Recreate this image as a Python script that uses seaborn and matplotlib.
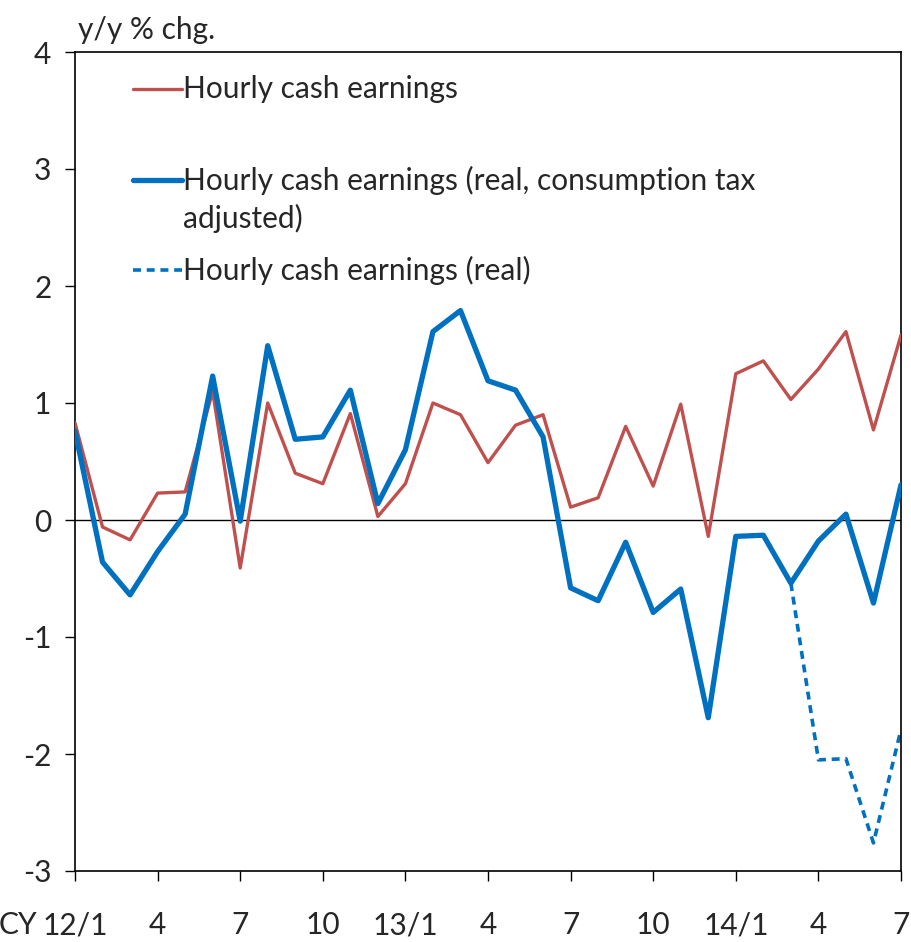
import numpy as np
import pandas as pd
import matplotlib
matplotlib.use("Agg")
import matplotlib.pyplot as plt
import seaborn as sns

# monthly data, CY 2012/1 .. 2014/7
months = list(range(31))
nominal = [0.83, -0.06, -0.17, 0.23, 0.24, 1.10, -0.41, 1.00, 0.40, 0.31,
           0.91, 0.03, 0.31, 1.00, 0.90, 0.49, 0.81, 0.90, 0.11, 0.19,
           0.80, 0.29, 0.99, -0.14, 1.25, 1.36, 1.03, 1.29, 1.61, 0.77, 1.58]
real_adj = [0.76, -0.36, -0.64, -0.27, 0.05, 1.23, -0.01, 1.49, 0.69, 0.71,
            1.11, 0.14, 0.60, 1.61, 1.79, 1.19, 1.11, 0.71, -0.58, -0.69,
            -0.19, -0.79, -0.59, -1.69, -0.14, -0.13, -0.54, -0.18, 0.05, -0.71, 0.30]
real_months = [26, 27, 28, 29, 30]
real = [-0.54, -2.05, -2.04, -2.76, -1.79]

tick_pos = [0, 3, 6, 9, 12, 15, 18, 21, 24, 27, 30]
tick_labels = ["12/1", "4", "7", "10", "13/1", "4", "7", "10", "14/1", "4", "7"]

labels = ["Hourly cash earnings",
          "Hourly cash earnings (real, consumption tax",
          "Hourly cash earnings (real)"]
label_wrap = "adjusted)"

red = "#C0504D"
blue = "#0070C0"
fs = 21.5

sns.set_style("white")
plt.rcParams['font.family'] = ['Lato', 'DejaVu Sans']

df1 = pd.DataFrame({"m": months, "v": nominal})
df2 = pd.DataFrame({"m": months, "v": real_adj})
df3 = pd.DataFrame({"m": real_months, "v": real})

fig = plt.figure(figsize=(9.12, 9.42), dpi=100)
ax = fig.add_axes([75 / 912, 1 - 871 / 942, 826 / 912, 819 / 942])

ax.axhline(0, color="black", lw=1.0, zorder=1)
sns.lineplot(data=df3, x="m", y="v", ax=ax, color=blue, lw=2.6,
             linestyle=(0, (2.2, 1.6)), zorder=2)
sns.lineplot(data=df1, x="m", y="v", ax=ax, color=red, lw=2.4, zorder=3)
sns.lineplot(data=df2, x="m", y="v", ax=ax, color=blue, lw=3.8, zorder=4)

ax.set_xlim(0, 30)
ax.set_ylim(-3, 4)
ax.set_yticks(range(-3, 5))
ax.set_yticklabels([str(v) for v in range(-3, 5)])
ax.set_xticks(tick_pos)
ax.set_xticklabels(tick_labels)
ax.set_xlabel("")
ax.set_ylabel("")

for s in ax.spines.values():
    s.set_visible(True)
    s.set_color("black")
    s.set_linewidth(1.2)

ax.tick_params(axis="y", direction="out", length=7, width=1, color="black",
               labelsize=fs, pad=10, left=True)
ax.tick_params(axis="x", direction="out", length=7, width=1, color="black",
               labelsize=fs, pad=22, bottom=True)

# legend drawn by hand so the two-line entry keeps its handle on the first line
leg_x0, leg_x1, txt_x = 0.070, 0.1295, 0.131
rows = [(0.955, red, 2.4, "-"), (0.8437, blue, 3.8, "-"), (0.7338, blue, 2.6, (0, (2.2, 1.6)))]
for (yy, c, lw, ls), lab in zip(rows, labels):
    ax.plot([leg_x0, leg_x1], [yy, yy], transform=ax.transAxes, color=c, lw=lw,
            linestyle=ls, clip_on=False)
    ax.text(txt_x, yy, lab, transform=ax.transAxes, fontsize=fs, va="center", ha="left")
ax.text(txt_x, 0.797, label_wrap, transform=ax.transAxes, fontsize=fs, va="center", ha="left")

fig.text(78 / 912, 1 - 30 / 942, "y/y % chg.", fontsize=fs, ha="left", va="center")
fig.text(37 / 912, 1 - 925 / 942, "CY", fontsize=fs, ha="right", va="center")

fig.savefig("out.png", dpi=100)
